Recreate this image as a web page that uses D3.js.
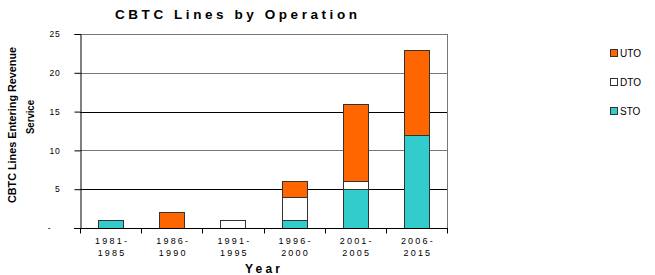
<!DOCTYPE html>
<html>
<head>
<meta charset="utf-8">
<script src="https://cdn.jsdelivr.net/npm/d3@7"></script>
<style>
  body { margin: 0; background: #fff; }
  text { font-family: "Liberation Sans", Arial, sans-serif; }
</style>
</head>
<body>
<svg id="chart" width="655" height="275"></svg>
<script>
// chart data
const periods = ['1981-1985', '1986-1990', '1991-1995', '1996-2000', '2001-2005', '2006-2015']
const sto = [1, 0, 0, 1, 5, 12]
const dto = [0, 0, 1, 3, 1, 0]
const uto = [0, 2, 0, 2, 10, 11]
const seriesNames = ['STO', 'DTO', 'UTO']
const seriesColors = ['#33CCCC', '#FFFFFF', '#FF6600']
const yTicks = [0, 5, 10, 15, 20, 25]

const svg = d3.select('#chart')
const margin = { left: 80, right: 208, top: 34, bottom: 47 }
const W = 655, H = 275
const x = d3.scaleBand().domain(periods).range([margin.left, W - margin.right]).paddingInner(0.59).paddingOuter(0.295)
const y = d3.scaleLinear().domain([0, 25]).range([H - margin.bottom, margin.top])

// gridlines
svg.append('g').selectAll('line')
  .data(yTicks.filter(d => d > 0))
  .enter().append('line')
  .attr('x1', margin.left).attr('x2', W - margin.right)
  .attr('y1', d => Math.round(y(d)) + 0.5).attr('y2', d => Math.round(y(d)) + 0.5)
  .attr('stroke', d => (d === 5 || d === 15) ? '#000' : '#777')
  .attr('stroke-width', 1)

// right border
svg.append('line')
  .attr('x1', W - margin.right + 0.5).attr('x2', W - margin.right + 0.5)
  .attr('y1', y(25)).attr('y2', y(0))
  .attr('stroke', '#777')

// stacked bars
const table = periods.map((p, i) => ({ period: p, STO: sto[i], DTO: dto[i], UTO: uto[i] }))
const stack = d3.stack().keys(seriesNames)(table)
const color = d3.scaleOrdinal().domain(seriesNames).range(seriesColors)

svg.append('g').selectAll('g')
  .data(stack)
  .enter().append('g')
  .attr('fill', d => color(d.key))
  .selectAll('rect')
  .data(d => d.filter(v => v[1] - v[0] > 0))
  .enter().append('rect')
  .attr('x', d => Math.round(x(d.data.period)) + 0.5)
  .attr('width', Math.round(x.bandwidth()))
  .attr('y', d => Math.round(y(d[1])) + 0.5)
  .attr('height', d => Math.round(y(d[0])) - Math.round(y(d[1])))
  .attr('stroke', '#333')
  .attr('stroke-width', 1)

// y axis
const yAxis = svg.append('g')
  .attr('transform', `translate(${margin.left + 0.5},0)`)
  .call(d3.axisLeft(y).tickValues(yTicks).tickSize(6).tickFormat(d => d === 0 ? '-' : d))
yAxis.select('.domain').attr('stroke', '#000')
yAxis.selectAll('.tick line').attr('stroke', '#000')
yAxis.selectAll('.tick text')
  .attr('x', d => d === 0 ? -29 : -20)
  .attr('font-size', '8.5px').attr('letter-spacing', '0.8px')
  .style('font-family', '"Liberation Sans", Arial, sans-serif')

// x axis with boundary ticks
const xAxis = svg.append('g')
  .attr('transform', `translate(0,${Math.round(y(0)) + 0.5})`)
xAxis.append('line')
  .attr('x1', margin.left - 6).attr('x2', W - margin.right + 1)
  .attr('stroke', '#000')
const step = x.step()
xAxis.selectAll('line.tk')
  .data(d3.range(periods.length + 1))
  .enter().append('line')
  .attr('class', 'tk')
  .attr('x1', i => Math.round(margin.left + i * step) + 0.5)
  .attr('x2', i => Math.round(margin.left + i * step) + 0.5)
  .attr('y1', 0).attr('y2', 5)
  .attr('stroke', '#000')
const xl = xAxis.selectAll('text.lbl')
  .data(periods)
  .enter().append('text')
  .attr('class', 'lbl')
  .attr('text-anchor', 'middle')
  .attr('font-size', '9px')
  .attr('letter-spacing', '2.2px')
xl.append('tspan')
  .attr('x', d => x(d) + x.bandwidth() / 2 + 1.5).attr('y', 15)
  .text(d => d.split('-')[0] + '-')
xl.append('tspan')
  .attr('x', d => x(d) + x.bandwidth() / 2 + 1.5).attr('y', 27)
  .text(d => d.split('-')[1])

// title
svg.append('text')
  .attr('x', 115).attr('y', 19)
  .attr('font-size', '13.5px').attr('font-weight', 'bold')
  .attr('textLength', 242).attr('lengthAdjust', 'spacing')
  .text('CBTC Lines by Operation')

// x title
svg.append('text')
  .attr('x', 245).attr('y', 273)
  .attr('font-size', '12px').attr('font-weight', 'bold')
  .attr('textLength', 35).attr('lengthAdjust', 'spacing')
  .text('Year')

// y title (two lines, condensed)
const yt = svg.append('g').attr('transform', 'translate(0,125) rotate(-90)')
  .attr('font-size', '10px').attr('font-weight', 'bold')
yt.append('text').attr('x', -78).attr('y', 16)
  .attr('textLength', 156).attr('lengthAdjust', 'spacingAndGlyphs')
  .text('CBTC Lines Entering Revenue')
yt.append('text').attr('x', -9).attr('y', 34)
  .attr('textLength', 34).attr('lengthAdjust', 'spacingAndGlyphs')
  .text('Service')

// legend
const legendOrder = ['UTO', 'DTO', 'STO']
const lg = svg.append('g').selectAll('g')
  .data(legendOrder)
  .enter().append('g')
  .attr('transform', (d, i) => `translate(610,${49 + i * 29})`)
lg.append('rect')
  .attr('x', 0.5).attr('y', 0.5).attr('width', 7).attr('height', 7)
  .attr('fill', d => color(d)).attr('stroke', '#333')
lg.append('text')
  .attr('x', 10).attr('y', 8)
  .attr('font-size', '10px')
  .text(d => d)
</script>
</body>
</html>
